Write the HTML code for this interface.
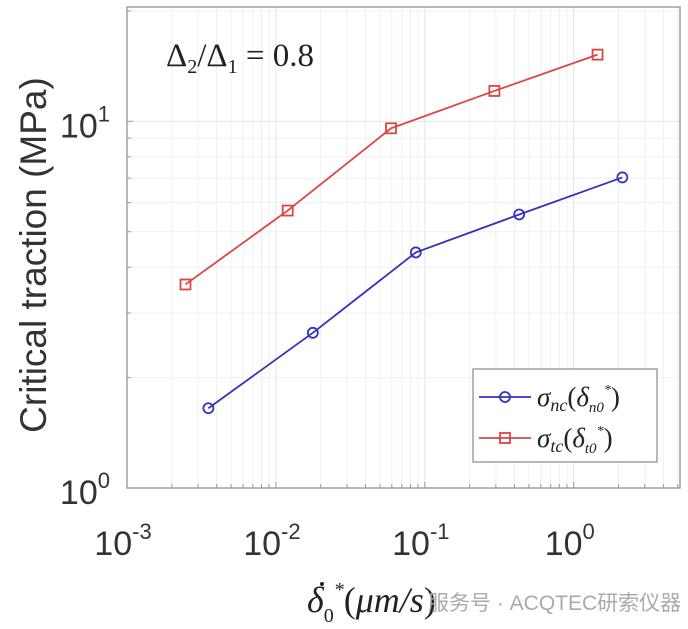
<!DOCTYPE html>
<html><head><meta charset="utf-8"><style>
body{margin:0;background:#fff;width:688px;height:629px;overflow:hidden}
svg{display:block}
</style></head><body>
<svg id="chart" width="688" height="629" xmlns="http://www.w3.org/2000/svg">
<g id="grid"></g>
<g id="ticks"></g>
<rect x="127" y="7" width="553" height="481" fill="none" stroke="#999" stroke-width="1.4"/>
<g id="series"></g>
<text x="166" y="66" font-family="Liberation Serif, serif" font-size="33" fill="#222">Δ<tspan font-size="20" dy="7">2</tspan><tspan dy="-7">/Δ</tspan><tspan font-size="20" dy="7">1</tspan><tspan dy="-7"> = 0.8</tspan></text>
<text transform="translate(46,255) rotate(-90)" text-anchor="middle" font-family="Liberation Sans, sans-serif" font-size="37" fill="#333">Critical traction (MPa)</text>
<g>
<text x="307" y="612" font-family="Liberation Serif, serif" font-style="italic" font-size="36" fill="#222">δ<tspan font-size="20" dy="10" font-style="normal">0</tspan><tspan font-size="20" dy="-26">*</tspan><tspan dy="16" font-style="normal">(</tspan>μm/s<tspan font-style="normal">)</tspan></text>
<circle cx="322" cy="584" r="2" fill="#222"/>
</g>
<text x="428" y="610" font-family="Liberation Sans, Noto Sans CJK SC, sans-serif" font-size="21" fill="#aaa">服务号 · ACQTEC研索仪器</text>
<g>
<rect x="473" y="369" width="184" height="93" fill="#fff" stroke="#999" stroke-width="1.4"/>
<line x1="479" y1="397" x2="531" y2="397" stroke="#3333bb" stroke-width="1.8"/>
<circle cx="505" cy="397" r="5" fill="none" stroke="#3333bb" stroke-width="1.8"/>
<text x="537" y="406" font-family="Liberation Serif, serif" font-style="italic" font-size="27" fill="#222">σ<tspan font-size="18" dy="5">nc</tspan><tspan dy="-5" font-style="normal">(</tspan>δ<tspan font-size="15" dy="6">n0</tspan><tspan font-size="14" dy="-18">*</tspan><tspan dy="12" font-style="normal">)</tspan></text>
<line x1="479" y1="438" x2="531" y2="438" stroke="#dd4444" stroke-width="1.8"/>
<rect x="500" y="433" width="10" height="10" fill="none" stroke="#dd4444" stroke-width="1.8"/>
<text x="537" y="447" font-family="Liberation Serif, serif" font-style="italic" font-size="27" fill="#222">σ<tspan font-size="18" dy="5">tc</tspan><tspan dy="-5" font-style="normal">(</tspan>δ<tspan font-size="15" dy="6">t0</tspan><tspan font-size="14" dy="-18">*</tspan><tspan dy="12" font-style="normal">)</tspan></text>
</g>
</svg>
<script>
const blueX=[0.00352,0.0177,0.087,0.43,2.12];
const blueY=[1.65,2.65,4.39,5.57,7.03];
const redX=[0.00247,0.012,0.0593,0.293,1.445];
const redY=[3.59,5.71,9.57,12.1,15.2];
const xTickExp=[-3,-2,-1,0];
const yTickExp=[0,1];
const NS='http://www.w3.org/2000/svg';
const L=127,R=680,T=7,B=488;
const xmin=-3,xmax=Math.log10(5.17),ymin=0,ymax=Math.log10(20.5);
function sx(v){return L+(Math.log10(v)-xmin)/(xmax-xmin)*(R-L);}
function sy(v){return B-(Math.log10(v)-ymin)/(ymax-ymin)*(B-T);}
function mk(tag,attrs,parent){const e=document.createElementNS(NS,tag);for(const k in attrs)e.setAttribute(k,attrs[k]);parent.appendChild(e);return e;}
const grid=document.getElementById('grid'),ticks=document.getElementById('ticks'),svg=document.getElementById('chart'),ser=document.getElementById('series');
for(let d=-3;d<=0;d++)for(let m=1;m<=9;m++){const v=m*Math.pow(10,d);const x=sx(v);if(x>R)continue;
 const g=mk('line',{x1:x,x2:x,y1:T,y2:B,stroke:m==1?'#e4e4e4':'#f0f0f0','stroke-width':1},grid);
 
 
 const t=mk('line',{x1:x,x2:x,y1:B,y2:B-(m==1?6:4),stroke:'#999'},ticks);
 
 }
for(let d=0;d<=1;d++)for(let m=1;m<=9;m++){const v=m*Math.pow(10,d);const y=sy(v);if(y<T)continue;
 const g=mk('line',{x1:L,x2:R,y1:y,y2:y,stroke:m==1?'#e4e4e4':'#f0f0f0','stroke-width':1},grid);
 
 
 const t=mk('line',{x1:L,x2:L+(m==1?6:4),y1:y,y2:y,stroke:'#999'},ticks);
 
 }
xTickExp.forEach(e=>{const x=sx(Math.pow(10,e));
 const t=mk('text',{x:x-4,y:555,'text-anchor':'middle','font-family':'Liberation Sans, sans-serif','font-size':34,fill:'#333'},svg);
 
 
 t.innerHTML='10<tspan font-size="22" dy="-16">'+e+'</tspan>';});
yTickExp.forEach(e=>{const y=sy(Math.pow(10,e));
 const t=mk('text',{x:110,y:y+16,'text-anchor':'end','font-family':'Liberation Sans, sans-serif','font-size':34,fill:'#333'},svg);
 
 
 t.innerHTML='10<tspan font-size="22" dy="-16">'+e+'</tspan>';});
function series(xs,ys,color,marker,name){
 const pts=xs.map((v,i)=>sx(v)+','+sy(ys[i])).join(' ');
 const pl=mk('polyline',{points:pts,fill:'none',stroke:color,'stroke-width':1.8},ser);
 
 
 xs.forEach((v,i)=>{const x=sx(v),y=sy(ys[i]);let m;
  if(marker=='o')m=mk('circle',{cx:x,cy:y,r:5,fill:'none',stroke:color,'stroke-width':1.8},ser);
  else m=mk('rect',{x:x-5,y:y-5,width:10,height:10,fill:'none',stroke:color,'stroke-width':1.8},ser);
  
  });
}
series(redX,redY,'#dd4444','s','sigma-tc');
series(blueX,blueY,'#3333bb','o','sigma-nc');
</script>
</body></html>
